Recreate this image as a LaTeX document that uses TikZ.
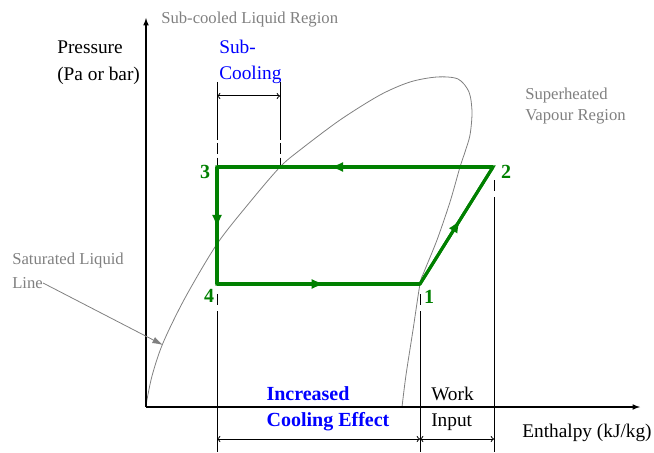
\documentclass[tikz,border=0pt]{standalone}
\usepackage{fontspec}
\setmainfont{Liberation Serif}
\usetikzlibrary{arrows,arrows.meta,decorations.markings,calc}
\tikzset{
  cyc/.style={line width=2.3pt,color=green!50!black,line join=miter},
  flow/.style={postaction={decorate},decoration={markings,mark=at position #1 with {\arrow{latex}}}},
  dome/.style={draw=gray,line width=0.6pt},
  axisline/.style={line width=0.9pt,-latex},
  extline/.style={line width=0.75pt},
  extdash/.style={line width=0.75pt,dash pattern=on 8pt off 3pt},
  dimarrow/.style={line width=0.75pt,<->,>=to},
  graytxt/.style={text=gray,font=\fontsize{12.5}{14}\selectfont,anchor=west},
  blacktxt/.style={font=\fontsize{14.5}{17}\selectfont,anchor=west},
  bluetxt/.style={text=blue,font=\fontsize{14.5}{17}\selectfont,anchor=west},
  effecttxt/.style={text=blue,font=\bfseries\fontsize{15}{18}\selectfont},
  ptlabel/.style={text=green!50!black,font=\bfseries\fontsize{15}{18}\selectfont}
}

\begin{document}
\begin{tikzpicture}[x=0.75pt,y=-0.75pt,every node/.style={inner sep=0pt}]
    \useasboundingbox (0,0) rectangle (654,453);
    \coordinate (o) at (146,407);
    \coordinate (p1) at (420,284);
    \coordinate (p2) at (493,167);
    \coordinate (p3) at (217,167);
    \coordinate (p4) at (217,284);
    \coordinate (ytip) at (146,18);
    \coordinate (xtip) at (640,407);
    \coordinate (onsat) at (163,345);
    \draw[dome] plot[smooth] coordinates {(146,405) (152,376) (163,343) (185,298) (217,244) (250,202) (280,167) (300,150) (340,120) (380,95) (410,82) (437,77) (458,79) (469,92) (472,112) (470,135) (465,152) (460,167) (450,202) (437,240) (424,272) (420,284) (413,330) (406,375) (402,407)};
    \draw[axisline] (o) -- (ytip);
    \draw[axisline] (o) -- (xtip);
    \draw[extline] (217,82) -- (217,140);
    \draw[extdash] (217,143) -- (p3);
    \draw[extline] (280,82) -- (280,140);
    \draw[extdash] (280,143) -- (280,167);
    \draw[dimarrow] (217,96) -- (280,96);
    \draw[extdash] (217,294) -- (217,307);
    \draw[extline] (217,311) -- (217,452);
    \draw[extdash] (420,294) -- (420,307);
    \draw[extline] (420,311) -- (420,452);
    \draw[extdash] (494,180) -- (494,194);
    \draw[extline] (494,197) -- (494,452);
    \draw[dimarrow] (217,439) -- (420,439);
    \draw[dimarrow] (420,439) -- (494,439);
    \draw[cyc] (p1) -- (p2) -- (p3) -- (p4) -- cycle;
    \draw[cyc,flow=0.55] (p1) -- (p2);
    \draw[cyc,flow=0.59] (p2) -- (p3);
    \draw[cyc,flow=0.52] (p3) -- (p4);
    \draw[cyc,flow=0.53] (p4) -- (p1);
    \node[ptlabel] (l1) at (429,297) {1};
    \node[ptlabel] (l2) at (506,172) {2};
    \node[ptlabel] (l3) at (205,172) {3};
    \node[ptlabel] (l4) at (209,296) {4};
    \node[blacktxt] (pres) at (57,47) {Pressure};
    \node[blacktxt] (presunit) at (57,76) {(Pa or bar)};
    \node[graytxt] (subreg) at (161,20) {Sub-cooled Liquid Region};
    \node[bluetxt] (subc1) at (219,47) {Sub-};
    \node[bluetxt] (subc2) at (219,75) {Cooling};
    \node[graytxt] (suph1) at (525,95) {Superheated};
    \node[graytxt] (suph2) at (525,117) {Vapour Region};
    \node[graytxt] (sat1) at (12,260) {Saturated Liquid};
    \node[graytxt] (sat2) at (12,283) {Line};
    \draw[gray,line width=0.6pt,-{Latex[length=8pt,width=5pt]}] (sat2.east) -- (onsat);
    \node[effecttxt] (incr) at (308,394) {Increased};
    \node[effecttxt] (cooleff) at (328,422) {Cooling Effect};
    \node[blacktxt] (work) at (431,394) {Work};
    \node[blacktxt] (input) at (431,422) {Input};
    \node[blacktxt] (enth) at (522,433) {Enthalpy (kJ/kg)};
  \end{tikzpicture}
\end{document}
